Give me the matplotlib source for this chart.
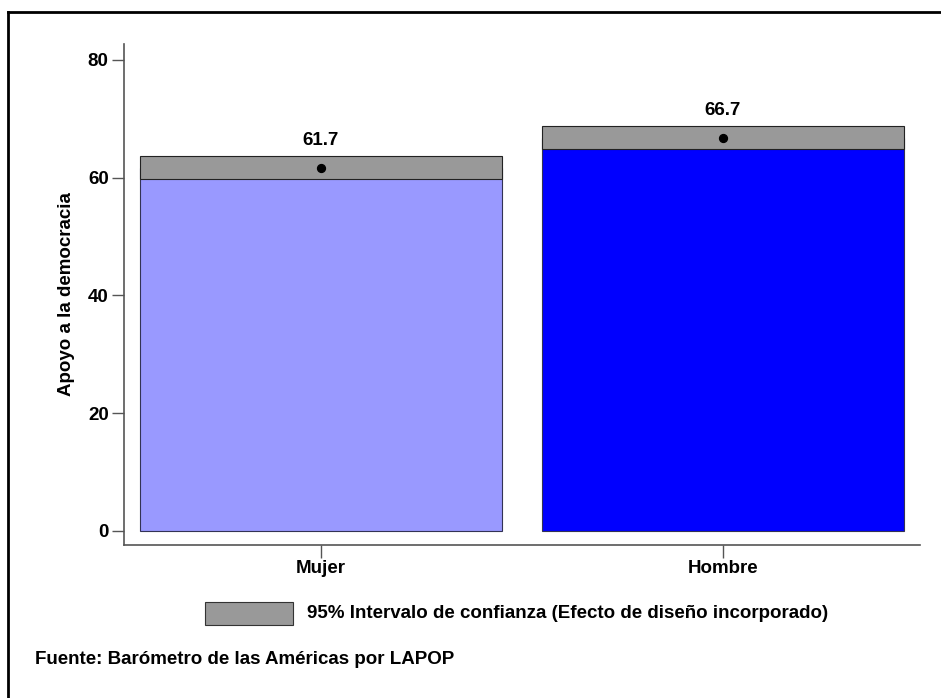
import matplotlib
matplotlib.use("Agg")
import matplotlib.pyplot as plt
from matplotlib.patches import Rectangle
from matplotlib.lines import Line2D

plt.rcParams["font.family"] = ["Liberation Sans", "DejaVu Sans"]
plt.rcParams["font.weight"] = "bold"

# ── data ─────────────────────────────────────────────────────────────────────
categories = ["Mujer", "Hombre"]
means = [61.7, 66.7]
ci_low = [59.8, 64.9]
ci_high = [63.7, 68.8]
bar_colors = ["#9999ff", "#0000ff"]
yticks = [0, 20, 40, 60, 80]

FS = 13.5

fig = plt.figure(figsize=(9.41, 6.98), dpi=100)
ax = fig.add_axes([0.1318, 0.2192, 0.8459, 0.7178])

x = list(range(len(categories)))
ax.bar(x, means, width=0.9, color=bar_colors, edgecolor="#333355", linewidth=0.8, zorder=2)
for xi, lo, hi in zip(x, ci_low, ci_high):
    ax.bar(xi, hi - lo, bottom=lo, width=0.9, color="#999999",
           edgecolor="#222222", linewidth=0.8, zorder=3)
ax.scatter(x, means, color="black", s=32, zorder=4)
for xi, m, hi in zip(x, means, ci_high):
    ax.annotate(f"{m:.1f}", (xi, hi), xytext=(0, 5), textcoords="offset points",
                ha="center", va="bottom", fontsize=FS, fontweight="bold")

ax.set_xlim(-0.49, 1.49)
ax.set_ylim(-2.4, 82.7)
ax.set_xticks(x)
ax.set_xticklabels(categories, fontsize=FS, fontweight="bold")
ax.set_yticks(yticks)
ax.set_yticklabels([str(t) for t in yticks], fontsize=FS, fontweight="bold")
ax.set_ylabel("Apoyo a la democracia", fontsize=FS, fontweight="bold", labelpad=9)
for s in ["top", "right"]:
    ax.spines[s].set_visible(False)
for s in ["left", "bottom"]:
    ax.spines[s].set_color("#555555")
    ax.spines[s].set_linewidth(1.2)
ax.tick_params(axis="both", length=9, width=1, color="#555555", pad=2)

# legend
fig.patches.append(Rectangle((205 / 941, 1 - 625 / 698), 88 / 941, 23 / 698,
                             transform=fig.transFigure, facecolor="#999999",
                             edgecolor="#333333", linewidth=0.8))
fig.text(307 / 941, 1 - 613 / 698, "95% Intervalo de confianza (Efecto de diseño incorporado)",
         fontsize=FS, fontweight="bold", va="center", ha="left")
fig.text(35 / 941, 1 - 659 / 698, "Fuente: Barómetro de las Américas por LAPOP",
         fontsize=13.5, fontweight="bold", va="center", ha="left")

# outer frame (top and left edges)
fig.lines.append(Line2D([8 / 941, 8 / 941], [0, 1 - 12 / 698], transform=fig.transFigure,
                        color="black", linewidth=2))
fig.lines.append(Line2D([8 / 941, 1], [1 - 12 / 698, 1 - 12 / 698], transform=fig.transFigure,
                        color="black", linewidth=2))

fig.savefig("out.png", dpi=100)
